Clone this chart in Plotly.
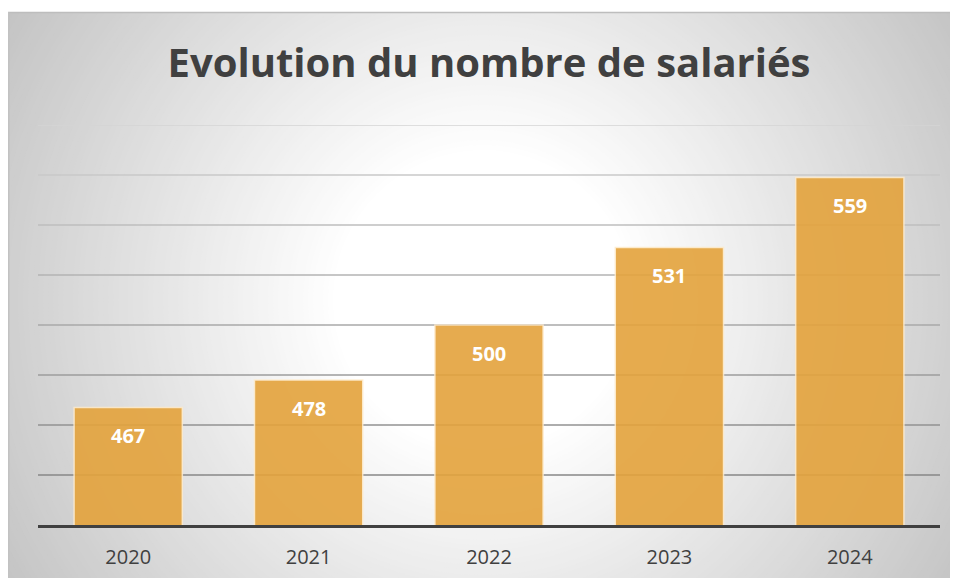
import plotly.graph_objects as go

# data
years = ['2020', '2021', '2022', '2023', '2024']
salaries = [467, 478, 500, 531, 559]
grid_values = [440, 460, 480, 500, 520, 540, 560, 580]

title_text = 'Evolution du nombre de salariés'
bar_color = '#E4A33C'
text_color = '#404040'

# the page body adds an 8px offset; the figure overflows the window on the
# right/bottom so the grey frame reaches the edges
W, H = 958, 578
ml, mr, mt, mb = 30, 26, 117, 61
pw, ph = W - ml - mr, H - mt - mb


def px_x(px):
    return (px - ml) / pw


def px_y(py):
    return (H - mb - py) / ph


shapes = []

# radial gradient background (white centre, grey edges), big circles first
cx, cy = px_x(475), px_y(292)
r = 640
while r >= 150:
    g = 255 - 59 * (r - 150) / 410
    g = int(max(188, min(255, g)))
    shapes.append(dict(
        type='circle', layer='below', xref='paper', yref='paper',
        xsizemode='pixel', ysizemode='pixel', xanchor=cx, yanchor=cy,
        x0=-r, x1=r, y0=-r, y1=r,
        fillcolor='rgb({0},{0},{0})'.format(g), line=dict(width=0)))
    r -= 5

# white strip above the chart frame
shapes.append(dict(type='rect', layer='below', xref='paper', yref='paper',
                   x0=px_x(-5), x1=px_x(W + 5), y0=px_y(4), y1=px_y(-5),
                   fillcolor='white', line=dict(width=0)))
# frame border
shapes.append(dict(type='line', layer='below', xref='paper', yref='paper',
                   x0=px_x(0), x1=px_x(W + 5), y0=px_y(4.5), y1=px_y(4.5),
                   line=dict(color='#bdbdbd', width=1.5)))
shapes.append(dict(type='line', layer='below', xref='paper', yref='paper',
                   x0=px_x(0.7), x1=px_x(0.7), y0=px_y(4), y1=px_y(H + 5),
                   line=dict(color='#c2c2c2', width=1.5)))

# gridlines, darker towards the bottom like the reference
for i, v in enumerate(grid_values):
    t = i / (len(grid_values) - 1)
    g = int(135 + (212 - 135) * t)
    shapes.append(dict(type='line', layer='below', xref='paper', yref='y',
                       x0=0, x1=1, y0=v, y1=v,
                       line=dict(color='rgb({0},{0},{0})'.format(g), width=1.5)))

fig = go.Figure(go.Bar(
    x=years, y=salaries,
    marker=dict(color=bar_color, opacity=0.9,
                line=dict(color='rgba(255,236,205,0.9)', width=1.5)),
    hoverinfo='x+y'))

# value labels inside the top of each bar (category axis -> use index for x)
annotations = []
for i, v in enumerate(salaries):
    annotations.append(dict(x=i, y=v, xref='x', yref='y', text='<b>%d</b>' % v,
                            showarrow=False, yanchor='middle', yshift=-28,
                            font=dict(family='Open Sans', size=20, color='white')))

fig.update_layout(
    width=W, height=H,
    margin=dict(l=ml, r=mr, t=mt, b=mb, autoexpand=False),
    paper_bgcolor='white',
    plot_bgcolor='rgba(0,0,0,0)',
    bargap=0.4,
    showlegend=False,
    shapes=shapes,
    annotations=annotations,
    title=dict(text='<b>' + title_text + '</b>', x=481 / W, xanchor='center',
               xref='container', y=1 - 55 / H, yref='container', yanchor='middle',
               font=dict(family='Open Sans', size=40, color=text_color)),
    font=dict(family='Open Sans', color=text_color),
)

fig.update_xaxes(type='category', categoryorder='array', categoryarray=years,
                 range=[-0.5, len(years) - 0.5], autorange=False, automargin=False,
                 showgrid=False, showline=True,
                 linecolor='#404040', linewidth=3, ticks='',
                 ticklabelstandoff=12,
                 tickfont=dict(family='Open Sans', size=20, color=text_color))
fig.update_yaxes(range=[420, 580], autorange=False, automargin=False,
                 showgrid=False, zeroline=False,
                 showticklabels=False, ticks='')

fig.write_html("out.html")
